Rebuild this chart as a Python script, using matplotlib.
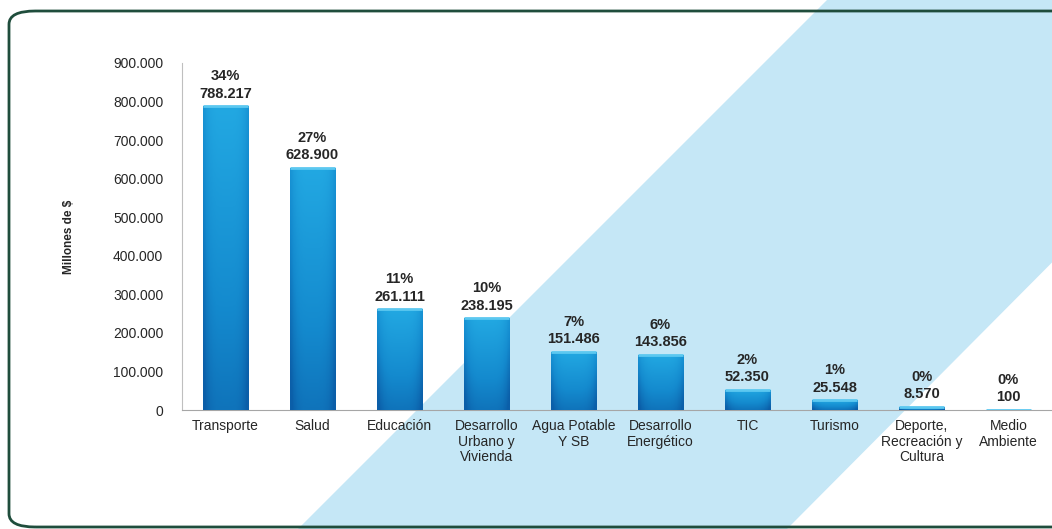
import matplotlib
matplotlib.use("Agg")
import matplotlib.pyplot as plt
import numpy as np
from matplotlib.patches import Polygon, FancyBboxPatch
from matplotlib.colors import LinearSegmentedColormap
from matplotlib.ticker import FuncFormatter

plt.rcParams['font.family'] = ['Liberation Sans', 'DejaVu Sans']

# Data
sectores = ["Transporte", "Salud", "Educación", "Desarrollo\nUrbano y\nVivienda",
            "Agua Potable\nY SB", "Desarrollo\nEnergético", "TIC", "Turismo",
            "Deporte,\nRecreación y\nCultura", "Medio\nAmbiente"]
valores = [788217, 628900, 261111, 238195, 151486, 143856, 52350, 25548, 8570, 100]
porcentajes = [34, 27, 11, 10, 7, 6, 2, 1, 0, 0]


def miles(v, pos=None):
    return f"{int(v):,}".replace(",", ".")


W, H = 1052, 529
fig = plt.figure(figsize=(W / 100, H / 100), dpi=100)

# background diagonal band (pixel coords, y from top)
band_px = [(827, 0), (1313, 0), (787, 529), (298, 529)]
band = Polygon([(x / W, 1 - y / H) for x, y in band_px], closed=True,
               transform=fig.transFigure, facecolor="#c5e7f6", edgecolor="none", zorder=-2)
fig.patches.append(band)

# rounded frame
frame = FancyBboxPatch((9 / W, 2 / H), (1080 - 9) / W, (518 - 2) / H,
                       boxstyle="round,pad=0,rounding_size=0.025",
                       transform=fig.transFigure, facecolor="none",
                       edgecolor="#1f4d3c", linewidth=2, zorder=-1)
fig.patches.append(frame)

ax = fig.add_axes([182 / W, 119 / H, 870 / W, 347 / H])
ax.set_facecolor("none")
ax.set_zorder(1)

x = np.arange(len(sectores))
bars = ax.bar(x, valores, width=0.52, color="#1487c9", edgecolor="none", zorder=2)

# gradient fill for each bar
cmap = LinearSegmentedColormap.from_list("barra", ["#0b5ea8", "#148ace", "#22a8e2"])
gy = np.linspace(0, 1, 64)[:, None]
gx = np.linspace(-1, 1, 32)[None, :]
grad = gy * 0.75 + 0.25 - 0.35 * gx ** 4
for b in bars:
    h = b.get_height()
    if h <= 0:
        continue
    im = ax.imshow(grad, cmap=cmap, vmin=0, vmax=1, origin="lower", aspect="auto",
                   extent=(b.get_x(), b.get_x() + b.get_width(), 0, h), zorder=3)
    im.set_clip_path(b)
    ax.plot([b.get_x(), b.get_x() + b.get_width()], [h, h], color="#5cc8f0",
            linewidth=2, solid_capstyle="butt", zorder=4)

for xi, v, p in zip(x, valores, porcentajes):
    ax.annotate(f"{p}%\n{miles(v)}", (xi, v), xytext=(0, 4), textcoords="offset points",
                ha="center", va="bottom", fontsize=10.5, fontweight="bold",
                color="#262626", linespacing=1.3, zorder=5)

ax.set_xlim(-0.5, len(sectores) - 0.5)
ax.set_ylim(0, 900000)
ax.set_yticks(np.arange(0, 900001, 100000))
ax.yaxis.set_major_formatter(FuncFormatter(miles))
ax.set_xticks(x)
ax.set_xticklabels(sectores, fontsize=10, color="#262626", linespacing=1.15)
ax.tick_params(axis="y", length=0, pad=13.5, labelsize=10, labelcolor="#262626")
ax.tick_params(axis="x", length=0, pad=6.5)

for s in ["top", "right"]:
    ax.spines[s].set_visible(False)
ax.spines["left"].set_color("#bfbfbf")
ax.spines["bottom"].set_color("#a6a6a6")

ax.set_ylabel("Millones de $", fontsize=8.5, fontweight="bold", color="#262626")
ax.yaxis.set_label_coords(-0.123, 0.5)

fig.savefig("out.png", dpi=100)
